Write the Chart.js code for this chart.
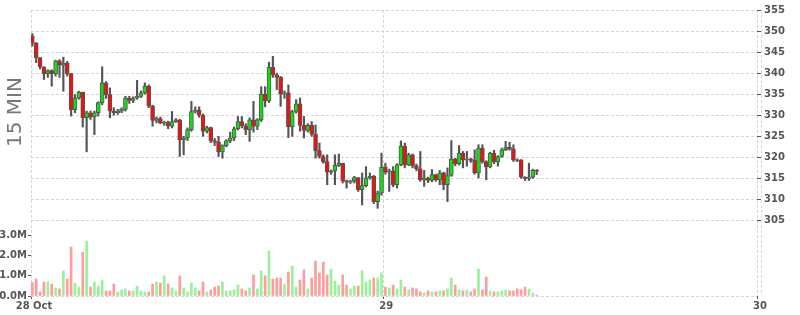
<!DOCTYPE html>
<html>
<head>
<meta charset="utf-8">
<script src="https://cdn.jsdelivr.net/npm/chart.js@4.4.1/dist/chart.umd.min.js"></script>
<style>
  html, body { margin: 0; padding: 0; background: #fff; }
  canvas { display: block; }
</style>
</head>
<body>
<canvas id="chart" width="800" height="315"></canvas>
<script>
// 15 minute candles, one slot per candle (x = slot index)
const openP = [
  348.8, 347.1, 343.7, 341.5, 339.9, 340.6, 339.9, 342.9, 341.9, 342.4,
  339.9, 331.3, 334.1, 335.5, 329.4, 330.6, 329.6, 330.6, 333.0, 337.7,
  334.9, 331.0, 330.6, 331.0, 331.4, 334.1, 333.5, 334.1, 334.5, 335.3,
  336.9, 332.2, 328.8, 329.2, 328.1, 328.3, 327.4, 328.5, 328.9, 324.2,
  324.6, 326.6, 330.9, 331.2, 330.0, 326.2, 327.1, 323.9, 323.6, 321.3,
  322.8, 323.9, 324.6, 326.8, 328.5, 327.5, 326.6, 328.9, 327.4, 328.9,
  335.0, 333.4, 341.4, 339.6, 339.0, 335.0, 335.3, 327.3, 330.9, 332.7,
  327.6, 326.4, 327.6, 325.5, 321.6, 320.2, 319.0, 316.5, 316.8, 318.1,
  318.6, 314.4, 314.1, 314.4, 315.2, 312.3, 313.3, 315.1, 315.5, 309.5,
  311.5, 317.7, 316.5, 316.8, 313.5, 318.2, 322.7, 318.2, 320.6, 318.0,
  317.3, 314.7, 315.1, 314.5, 315.9, 314.7, 316.3, 313.5, 315.7, 319.6,
  318.5, 321.0, 319.4, 319.6, 319.3, 316.3, 322.2, 319.0, 317.7, 321.0,
  318.9, 320.2, 321.8, 322.4, 322.0, 319.4, 319.3, 315.3, 315.0, 315.3,
  316.9
];
const highP = [
  349.4, 347.3, 343.7, 341.5, 340.8, 340.8, 343.1, 343.2, 343.8, 342.8,
  339.9, 334.9, 335.7, 335.5, 331.0, 331.0, 331.0, 333.2, 341.5, 338.0,
  336.5, 331.8, 331.4, 331.8, 334.5, 334.5, 334.4, 338.3, 335.8, 337.7,
  337.2, 332.4, 329.6, 329.6, 328.6, 328.6, 330.9, 329.2, 329.0, 325.0,
  327.0, 333.3, 332.0, 332.0, 330.3, 327.4, 327.2, 324.5, 325.0, 323.0,
  324.2, 326.0, 327.2, 329.7, 329.7, 328.0, 329.4, 333.3, 329.2, 336.8,
  336.8, 342.6, 344.0, 340.0, 339.2, 335.8, 337.2, 331.2, 333.7, 334.1,
  329.7, 328.0, 328.5, 327.7, 323.4, 320.6, 320.6, 317.0, 320.6, 320.8,
  318.6, 314.6, 314.6, 315.5, 315.2, 316.3, 317.8, 316.3, 315.7, 312.0,
  321.0, 318.6, 317.2, 317.8, 318.5, 323.9, 323.4, 321.0, 320.8, 318.4,
  321.4, 316.9, 315.3, 317.1, 316.0, 316.9, 316.5, 317.5, 324.0, 319.8,
  322.8, 321.4, 321.4, 319.8, 321.8, 323.0, 323.0, 319.2, 321.2, 321.7,
  320.4, 322.2, 323.8, 323.6, 323.0, 319.6, 319.5, 315.4, 318.6, 317.2,
  317.1
];
const lowP = [
  346.4, 342.5, 341.0, 338.5, 339.0, 336.9, 339.3, 339.0, 335.7, 339.3,
  329.8, 330.6, 333.8, 327.2, 321.3, 329.0, 325.4, 329.8, 332.5, 334.0,
  329.4, 330.0, 330.2, 330.6, 331.0, 332.8, 333.0, 333.8, 334.2, 335.0,
  331.8, 327.4, 328.2, 328.0, 327.6, 326.8, 327.0, 328.3, 320.2, 320.6,
  324.0, 326.2, 330.5, 329.5, 325.0, 325.8, 323.5, 322.8, 320.2, 319.8,
  322.5, 323.5, 324.0, 326.5, 327.0, 325.4, 323.8, 326.0, 326.6, 328.5,
  332.0, 333.0, 339.0, 336.1, 332.1, 334.0, 324.7, 325.0, 330.5, 326.2,
  324.6, 326.0, 325.0, 319.8, 319.8, 318.6, 313.5, 316.0, 313.5, 317.8,
  313.9, 312.7, 313.8, 313.9, 311.9, 308.7, 313.0, 314.8, 309.0, 307.9,
  311.0, 316.0, 311.9, 313.0, 312.7, 318.0, 317.5, 318.0, 317.5, 316.8,
  314.3, 313.1, 314.0, 314.2, 314.3, 313.5, 312.3, 309.5, 315.5, 318.0,
  318.2, 317.5, 317.9, 318.8, 316.0, 315.1, 318.6, 314.7, 317.5, 318.5,
  317.9, 320.0, 321.6, 321.7, 319.0, 319.0, 315.0, 314.5, 314.5, 315.0,
  315.9
];
const closeP = [
  347.1, 343.7, 341.5, 339.9, 340.6, 339.9, 342.9, 341.9, 342.4, 339.9,
  331.3, 334.1, 335.5, 329.4, 330.6, 329.6, 330.6, 333.0, 337.7, 334.9,
  331.0, 330.6, 331.0, 331.4, 334.1, 333.5, 334.1, 334.5, 335.3, 336.9,
  332.2, 328.8, 329.2, 328.1, 328.3, 327.4, 328.5, 328.9, 324.2, 324.6,
  326.6, 330.9, 331.2, 330.0, 326.2, 327.1, 323.9, 323.6, 321.3, 322.8,
  323.9, 324.6, 326.8, 328.5, 327.5, 326.6, 328.9, 327.4, 328.9, 335.0,
  333.4, 341.4, 339.6, 339.0, 335.0, 335.3, 327.3, 330.9, 332.7, 327.6,
  326.4, 327.6, 325.5, 321.6, 320.2, 319.0, 316.5, 316.8, 318.1, 318.6,
  314.4, 314.1, 314.4, 315.2, 312.3, 313.3, 315.1, 315.5, 309.5, 311.5,
  317.7, 316.5, 316.8, 313.5, 318.2, 322.7, 318.2, 320.6, 318.0, 317.3,
  314.7, 315.1, 314.5, 315.9, 314.7, 316.3, 313.5, 315.7, 319.6, 318.5,
  321.0, 319.4, 319.6, 319.3, 316.3, 322.2, 319.0, 317.7, 321.0, 318.9,
  320.2, 321.8, 322.4, 322.0, 319.4, 319.3, 315.3, 315.0, 315.3, 316.9,
  316.7
];
// volume in millions
const volumeM = [
  0.66, 0.84, 0.20, 0.69, 0.69, 0.59, 0.40, 0.35, 1.24, 0.84,
  2.42, 0.64, 0.44, 2.17, 2.72, 0.44, 0.69, 0.49, 0.79, 0.25,
  0.25, 0.59, 0.20, 0.30, 0.35, 0.25, 0.25, 0.49, 0.25, 0.20,
  0.20, 0.59, 0.69, 0.64, 0.99, 0.59, 0.40, 0.25, 0.99, 0.40,
  0.20, 0.64, 0.40, 0.25, 0.69, 0.20, 0.30, 0.44, 0.49, 0.69,
  0.25, 0.25, 0.30, 0.54, 0.35, 0.25, 0.40, 1.04, 0.35, 1.24,
  0.99, 2.22, 0.84, 0.89, 0.89, 0.59, 1.19, 1.48, 0.44, 0.79,
  1.29, 0.35, 0.89, 1.73, 1.14, 1.68, 1.04, 1.33, 0.74, 0.54,
  1.04, 0.54, 0.35, 0.49, 0.49, 1.24, 0.69, 0.79, 0.89, 0.89,
  1.14, 0.44, 0.40, 0.54, 0.35, 0.79, 0.44, 0.30, 0.40, 0.35,
  0.20, 0.15, 0.25, 0.20, 0.20, 0.25, 0.25, 0.35, 0.89, 0.54,
  0.30, 0.25, 0.30, 0.20, 0.35, 1.33, 0.30, 0.94, 0.25, 0.20,
  0.20, 0.25, 0.30, 0.25, 0.25, 0.35, 0.30, 0.44, 0.35, 0.15,
  0.05
];

const priceTicks = [305, 310, 315, 320, 325, 330, 335, 340, 345, 350, 355];
const volumeTicks = [0, 1, 2, 3];
const dayTickPos = [-0.34, 90.46, 186.78];
const dayTickLabels = ['28 Oct', '29', '30'];

const UP = '#13dd13', DOWN = '#ee1111';
const UP_VOL = '#9cef9c', DOWN_VOL = '#ff9c9c';
const EDGE = '#555555';
const GRID = '#d6d6d6';
const TICK_FONT = { family: 'DejaVu Sans', size: 10, weight: 'bold' };

const isUp = closeP.map((c, i) => c >= openP[i]);

// draws the "15 MIN" caption and the second right-hand dashed line
const extras = {
  id: 'extras',
  afterDraw(chart) {
    const { ctx, chartArea } = chart;
    ctx.save();
    ctx.strokeStyle = GRID;
    ctx.setLineDash([3, 2]);
    ctx.beginPath();
    ctx.moveTo(chartArea.right + 4.5, chartArea.top);
    ctx.lineTo(chartArea.right + 4.5, chartArea.bottom - 3);
    ctx.stroke();
    ctx.setLineDash([]);
    ctx.translate(16, 112);
    ctx.rotate(-Math.PI / 2);
    ctx.fillStyle = '#777';
    ctx.font = '20px "DejaVu Sans"';
    ctx.textAlign = 'center';
    ctx.textBaseline = 'middle';
    ctx.fillText('15 MIN', 0, 0);
    ctx.restore();
  }
};

new Chart(document.getElementById('chart'), {
  type: 'bar',
  data: {
    datasets: [
      {
        label: 'body',
        data: openP.map((o, i) => ({ x: i, y: [o, closeP[i]] })),
        backgroundColor: isUp.map(u => u ? UP : DOWN),
        borderColor: EDGE,
        borderWidth: 1,
        borderSkipped: false,
        barThickness: 4,
        maxBarThickness: 4,
        grouped: false,
        yAxisID: 'price',
        order: 0
      },
      {
        label: 'wick',
        data: lowP.map((l, i) => ({ x: i, y: [l, highP[i]] })),
        backgroundColor: EDGE,
        barThickness: 1.5,
        maxBarThickness: 1.5,
        grouped: false,
        yAxisID: 'price',
        order: 1
      },
      {
        label: 'volume',
        data: volumeM.map((v, i) => ({ x: i, y: v * 1e6 })),
        backgroundColor: isUp.map(u => u ? UP_VOL : DOWN_VOL),
        barThickness: 2,
        maxBarThickness: 2,
        grouped: false,
        yAxisID: 'vol',
        order: 2
      }
    ]
  },
  options: {
    responsive: false,
    animation: false,
    devicePixelRatio: 1,
    layout: { padding: { top: 10, left: 0, right: 0, bottom: 0 } },
    plugins: { legend: { display: false }, tooltip: { enabled: false } },
    scales: {
      x: {
        type: 'linear',
        min: dayTickPos[0],
        max: dayTickPos[dayTickPos.length - 1],
        offset: false,
        afterBuildTicks: s => { s.ticks = dayTickPos.map(v => ({ value: v })); },
        afterFit: s => { s.height = 19; },
        ticks: {
          autoSkip: false, maxRotation: 0, minRotation: 0,
          labelOffset: 3, padding: 1, color: EDGE, font: TICK_FONT,
          callback: (v, i) => dayTickLabels[i]
        },
        grid: { offset: false, color: GRID, tickColor: EDGE, tickLength: 3 },
        border: { display: false, dash: [3, 2] }
      },
      vol: {
        type: 'linear',
        position: 'left',
        min: 0,
        max: 14.14e6,
        afterBuildTicks: s => { s.ticks = volumeTicks.map(v => ({ value: v * 1e6 })); },
        afterFit: s => { s.width = 31; },
        ticks: {
          padding: 1, color: EDGE, font: TICK_FONT,
          callback: v => (v / 1e6).toFixed(1) + 'M'
        },
        grid: {
          color: c => (c.tick && c.tick.value === 0) ? GRID : 'rgba(0,0,0,0)',
          tickColor: EDGE, tickLength: 3
        },
        border: { display: false, dash: [3, 2] }
      },
      price: {
        type: 'linear',
        position: 'right',
        min: 287.07,
        max: 355,
        afterBuildTicks: s => { s.ticks = priceTicks.map(v => ({ value: v })); },
        afterFit: s => { s.width = 43; },
        ticks: { padding: 3, color: EDGE, font: TICK_FONT },
        grid: { color: GRID, tickColor: EDGE, tickLength: 4 },
        border: { display: false, dash: [3, 2] }
      }
    }
  },
  plugins: [extras]
});
</script>
</body>
</html>
